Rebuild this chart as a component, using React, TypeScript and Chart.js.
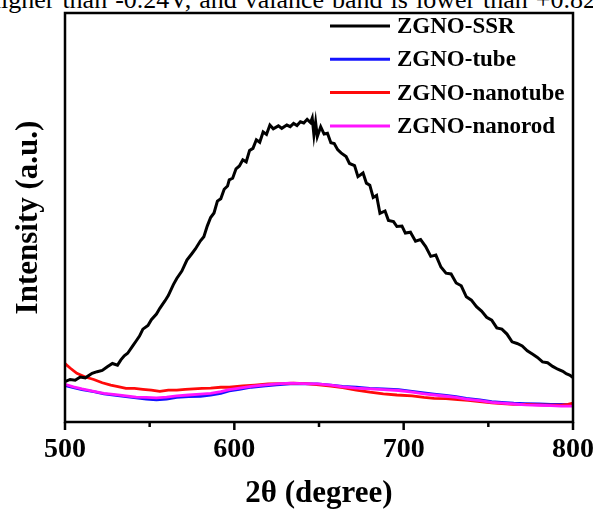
import React, { useEffect, useRef } from "react";
import { Chart, registerables } from "chart.js";

Chart.register(...registerables);

const seriesLabels = ["ZGNO-SSR", "ZGNO-tube", "ZGNO-nanotube", "ZGNO-nanorod"];
const seriesColors = ["#000000", "#1414ff", "#ff0a0a", "#ff14ff"];
const xTicks = [500, 600, 700, 800];
const minorTicks = [550, 650, 750];

const ssrX = [500, 503, 506, 509, 512, 516, 519, 522, 525, 528, 531, 533, 535, 537, 540, 542, 544, 546, 549, 551, 554, 556, 559, 561, 564, 566, 569, 572, 575, 577, 580, 582, 584, 586, 588, 590, 592, 594, 596, 597, 599, 601, 603, 605, 607, 609, 611, 613, 615, 617, 619, 621, 623, 626, 628, 631, 633, 635, 637, 639, 641, 643, 645, 646, 647, 648, 649, 651, 653, 655, 657, 659, 661, 663, 666, 668, 671, 673, 676, 678, 680, 682, 684, 686, 689, 691, 694, 696, 699, 701, 704, 707, 710, 713, 716, 719, 722, 725, 728, 731, 734, 737, 740, 743, 746, 749, 752, 755, 758, 761, 764, 767, 770, 773, 776, 779, 782, 785, 788, 791, 794, 796, 798, 800];
const ssrY = [9.9, 10.4, 10.2, 11.0, 10.8, 11.9, 12.3, 12.6, 13.5, 14.3, 13.9, 15.2, 16.2, 16.8, 18.6, 19.8, 21.0, 22.7, 23.6, 25.0, 26.4, 27.8, 29.6, 30.9, 33.6, 35.1, 36.9, 39.6, 41.2, 42.3, 44.3, 45.3, 47.9, 50.0, 51.1, 54.0, 54.6, 56.9, 57.7, 59.2, 59.6, 61.9, 62.6, 64.1, 63.6, 66.4, 66.9, 69.0, 68.4, 70.9, 70.3, 72.6, 71.7, 72.4, 71.8, 72.6, 72.2, 73.0, 72.5, 73.4, 73.1, 74.0, 73.2, 74.3, 70.2, 73.3, 69.8, 72.2, 70.4, 70.6, 68.3, 68.1, 66.6, 65.8, 64.9, 63.2, 62.7, 60.0, 60.9, 58.4, 57.9, 54.9, 55.4, 51.0, 51.6, 49.3, 49.0, 47.8, 47.9, 46.2, 46.4, 44.2, 44.6, 42.9, 40.5, 40.8, 37.9, 36.4, 36.2, 34.0, 33.3, 30.6, 29.8, 28.2, 27.1, 25.6, 24.9, 23.0, 22.7, 21.5, 19.6, 19.2, 18.6, 17.4, 16.6, 15.8, 14.7, 14.5, 13.6, 12.9, 12.4, 11.8, 11.5, 10.9, 10.7];

const tubeX = [500, 505, 510, 517, 523, 530, 536, 542, 548, 554, 560, 566, 573, 580, 586, 592, 597, 603, 610, 617, 625, 633, 641, 649, 657, 664, 672, 680, 688, 697, 705, 712, 718, 725, 731, 737, 745, 752, 758, 765, 772, 780, 787, 793, 800];
const tubeY = [8.9, 8.4, 7.9, 7.4, 6.9, 6.5, 6.2, 5.9, 5.6, 5.4, 5.6, 6.0, 6.2, 6.3, 6.6, 7.0, 7.6, 8.0, 8.5, 8.8, 9.1, 9.3, 9.3, 9.3, 9.0, 8.7, 8.5, 8.2, 8.1, 7.9, 7.5, 7.1, 6.8, 6.5, 6.2, 5.8, 5.4, 5.0, 4.8, 4.6, 4.5, 4.4, 4.3, 4.3, 4.2];

const nanotubeX = [500, 503, 507, 512, 517, 522, 527, 532, 536, 541, 546, 551, 556, 561, 566, 571, 576, 581, 586, 592, 597, 605, 612, 620, 628, 635, 642, 650, 657, 664, 672, 680, 688, 696, 705, 712, 718, 725, 732, 738, 745, 752, 758, 765, 772, 780, 787, 793, 797, 800];
const nanotubeY = [14.3, 13.2, 11.9, 11.0, 10.4, 9.6, 9.0, 8.6, 8.2, 8.2, 8.0, 7.8, 7.5, 7.8, 7.8, 8.0, 8.1, 8.2, 8.3, 8.5, 8.5, 8.8, 9.0, 9.3, 9.4, 9.5, 9.4, 9.1, 8.8, 8.4, 7.8, 7.3, 6.9, 6.6, 6.4, 6.0, 5.8, 5.7, 5.5, 5.3, 5.0, 4.7, 4.5, 4.3, 4.3, 4.2, 4.1, 4.1, 4.3, 4.6];

const nanorodX = [500, 505, 510, 517, 523, 530, 536, 542, 548, 554, 560, 566, 573, 580, 586, 592, 597, 603, 610, 617, 625, 633, 641, 649, 657, 664, 672, 680, 688, 697, 705, 712, 718, 725, 731, 737, 745, 752, 758, 765, 772, 780, 787, 793, 800];
const nanorodY = [9.2, 8.6, 8.1, 7.5, 7.0, 6.7, 6.4, 6.1, 6.0, 5.9, 6.1, 6.4, 6.6, 6.8, 7.0, 7.4, 7.9, 8.3, 8.7, 9.0, 9.3, 9.5, 9.4, 9.3, 9.0, 8.6, 8.3, 8.1, 7.9, 7.7, 7.3, 6.9, 6.6, 6.3, 6.0, 5.6, 5.2, 4.8, 4.6, 4.4, 4.2, 4.1, 4.0, 3.9, 3.9];

const seriesX = [ssrX, tubeX, nanotubeX, nanorodX];
const seriesY = [ssrY, tubeY, nanotubeY, nanorodY];
const drawOrder = [1, 3, 2, 0];

const serif = "'Liberation Serif', 'Times New Roman', serif";

const framePlugin = {
  id: "frameAndLegend",
  afterDraw(chart: any) {
    const { ctx, chartArea } = chart;
    const xs = chart.scales.x;
    ctx.save();
    ctx.strokeStyle = "#000";
    ctx.lineWidth = 2.5;
    ctx.strokeRect(chartArea.left, chartArea.top, chartArea.right - chartArea.left, chartArea.bottom - chartArea.top);
    const all = [...xTicks.map((v) => [v, 8]), ...minorTicks.map((v) => [v, 5])];
    all.forEach(([v, len]) => {
      const px = xs.getPixelForValue(v);
      ctx.beginPath();
      ctx.moveTo(px, chartArea.bottom);
      ctx.lineTo(px, chartArea.bottom + len);
      ctx.stroke();
    });
    ctx.font = `bold 23px ${serif}`;
    ctx.textBaseline = "middle";
    ctx.textAlign = "left";
    chart.data.datasets.forEach((ds: any, i: number) => {
      const y = 26 + i * 33.3;
      ctx.strokeStyle = ds.borderColor;
      ctx.lineWidth = 3;
      ctx.beginPath();
      ctx.moveTo(330, y);
      ctx.lineTo(390, y);
      ctx.stroke();
      ctx.fillStyle = "#000";
      ctx.fillText(ds.label, 397, y + 1);
    });
    ctx.restore();
  },
};

export default function App() {
  const ref = useRef<HTMLCanvasElement>(null);
  useEffect(() => {
    if (!ref.current) return;
    const chart = new Chart(ref.current, {
      type: "line",
      data: {
        datasets: seriesLabels.map((label, i) => ({
          label,
          data: seriesX[i].map((x, j) => ({ x, y: seriesY[i][j] })),
          borderColor: seriesColors[i],
          backgroundColor: seriesColors[i],
          borderWidth: i === 0 ? 3 : 2.8,
          pointRadius: 0,
          tension: 0,
          order: drawOrder[i],
        })),
      },
      options: {
        animation: false,
        responsive: false,
        layout: { padding: { top: 13, right: 20, left: 0, bottom: 0 } },
        plugins: { legend: { display: false }, tooltip: { enabled: false } },
        scales: {
          x: {
            type: "linear",
            min: 500,
            max: 800,
            grid: { display: false },
            border: { display: false },
            ticks: {
              stepSize: 100,
              color: "#000",
              padding: 3,
              font: { family: serif, weight: "bold", size: 28 },
            },
            title: {
              display: true,
              text: "2θ (degree)",
              color: "#000",
              font: { family: serif, weight: "bold", size: 31 },
              padding: { top: 0, bottom: -3 },
            },
            afterFit: (s: any) => {
              s.height = 88;
              s.paddingLeft = 0;
              s.paddingRight = 0;
            },
          },
          y: {
            min: 0,
            max: 100,
            grid: { display: false },
            border: { display: false },
            ticks: { display: false },
            title: {
              display: true,
              text: "Intensity (a.u.)",
              color: "#000",
              font: { family: serif, weight: "bold", size: 31 },
              padding: { top: 10, bottom: 0 },
            },
            afterFit: (s: any) => {
              s.width = 65;
            },
          },
        },
      },
      plugins: [framePlugin],
    });
    return () => chart.destroy();
  }, []);
  return (
    <div style={{ position: "fixed", left: 0, top: 0, width: 593, height: 510, background: "#fff", overflow: "hidden" }}>
      <div
        style={{
          position: "absolute",
          left: -12,
          top: -13,
          width: 608,
          fontFamily: serif,
          fontSize: 26,
          lineHeight: "26px",
          whiteSpace: "nowrap",
          textAlign: "justify",
          textAlignLast: "justify",
          color: "#000",
        }}
      >
        higher than -0.24V, and valance band is lower than +0.82
      </div>
      <canvas ref={ref} width={593} height={510} style={{ position: "absolute", left: 0, top: 0 }} />
    </div>
  );
}
